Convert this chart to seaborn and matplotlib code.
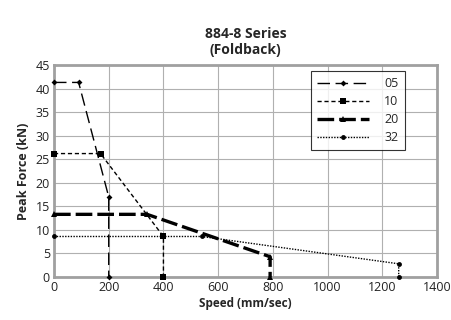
import matplotlib
matplotlib.use("Agg")
import matplotlib.pyplot as plt
import numpy as np
import pandas as pd
import seaborn as sns

# data
series = ["05", "10", "20", "32"]
speed_05 = [0, 90, 200, 200]
force_05 = [41.3, 41.3, 17.0, 0]
speed_10 = [0, 170, 400, 400]
force_10 = [26.2, 26.2, 8.6, 0]
speed_20 = [0, 340, 790, 790]
force_20 = [13.3, 13.3, 4.3, 0]
speed_32 = [0, 540, 1260, 1260]
force_32 = [8.6, 8.6, 2.8, 0]

speeds = [speed_05, speed_10, speed_20, speed_32]
forces = [force_05, force_10, force_20, force_32]

sns.set_style("white")
plt.rcParams["font.family"] = ["Open Sans", "DejaVu Sans"]

styles = {
    "05": dict(ls=(0, (9, 4)), lw=1.0, marker="D", ms=3),
    "10": dict(ls=(0, (3, 2)), lw=1.0, marker="s", ms=4),
    "20": dict(ls=(0, (5, 1.5)), lw=2.4, marker="^", ms=4),
    "32": dict(ls=(0, (1, 1)), lw=1.0, marker="o", ms=3.5),
}

fig = plt.figure(figsize=(4.52, 3.2), dpi=100)
ax = fig.add_axes([54 / 452, 1 - 277 / 320, (437 - 54) / 452, (277 - 65) / 320])

for name, xs, ys in zip(series, speeds, forces):
    df = pd.DataFrame({"speed": xs, "force": ys})
    st = styles[name]
    sns.lineplot(
        data=df, x="speed", y="force", sort=False, estimator=None,
        color="black", linestyle=st["ls"], linewidth=st["lw"],
        marker=st["marker"], markersize=st["ms"], markeredgewidth=0,
        ax=ax, label=name,
    )
for ln in ax.lines:
    ln.set_clip_on(False)
    ln.set_zorder(3)

ax.set_xlim(0, 1400)
ax.set_ylim(0, 45)
ax.set_xticks(np.arange(0, 1401, 200))
ax.set_yticks(np.arange(0, 46, 5))
ax.grid(True, color="#b0b0b0", lw=0.8)
for sp in ax.spines.values():
    sp.set_color("#a0a0a0")
    sp.set_linewidth(2)
ax.tick_params(labelsize=9, length=0, pad=3, colors="#222222")
ax.set_xlabel("Speed (mm/sec)", fontsize=8.5, fontweight="bold", labelpad=2)
ax.set_ylabel("Peak Force (kN)", fontsize=9, fontweight="bold", labelpad=4)
ax.set_title("884-8 Series\n(Foldback)", fontsize=10, fontweight="bold", pad=8)

leg = ax.legend(
    loc="upper right", bbox_to_anchor=(0.916, 0.972), borderaxespad=0,
    frameon=True, fancybox=False,
    edgecolor="black", fontsize=9, handlelength=4.2, handletextpad=1.2,
    borderpad=0.5, labelspacing=0.4, numpoints=1,
)
leg.get_frame().set_linewidth(0.8)

fig.savefig("out.png", dpi=100)
